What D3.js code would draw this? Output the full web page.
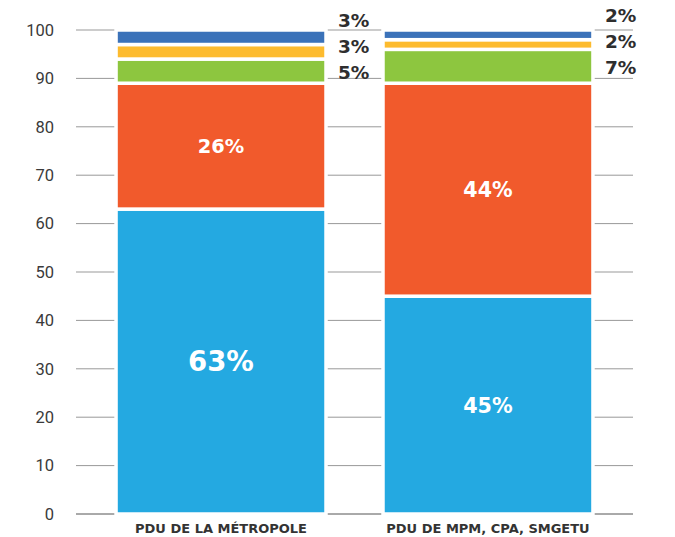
<!DOCTYPE html>
<html>
<head>
<meta charset="utf-8">
<script src="https://cdn.jsdelivr.net/npm/d3@7"></script>
<style>
  html, body { margin: 0; padding: 0; background: #fff; }
  svg { display: block; }
</style>
</head>
<body>
<svg id="chart" width="675" height="537"></svg>
<script>
// Modal split of the two mobility plans (shares in %, bottom to top)
const categories = ["PDU DE LA MÉTROPOLE", "PDU DE MPM, CPA, SMGETU"];
const shareBlue   = [63, 45];
const shareOrange = [26, 44];
const shareGreen  = [5, 7];
const shareYellow = [3, 2];
const shareNavy   = [3, 2];
const yTicks = [0, 10, 20, 30, 40, 50, 60, 70, 80, 90, 100];

const keys = ["blue", "orange", "green", "yellow", "navy"];
const colors = {
  blue: "#24a9e1",
  orange: "#f15a2c",
  green: "#8dc63f",
  yellow: "#fdbb2e",
  navy: "#3b72b9"
};

const rows = categories.map((c, i) => ({
  category: c,
  blue: shareBlue[i],
  orange: shareOrange[i],
  green: shareGreen[i],
  yellow: shareYellow[i],
  navy: shareNavy[i]
}));

const svg = d3.select("#chart");
const plotLeft = 76, plotRight = 633, plotTop = 30, plotBottom = 514;

const x = d3.scaleBand()
  .domain(categories)
  .range([plotLeft, plotRight])
  .paddingInner(0.2135)
  .paddingOuter(0.15);

const y = d3.scaleLinear().domain([0, 100]).range([plotBottom, plotTop]);

// gridlines (bars are drawn over them with a white outline)
const grid = svg.append("g");
grid.selectAll("line")
  .data(yTicks)
  .join("line")
  .attr("x1", plotLeft).attr("x2", plotRight)
  .attr("y1", d => y(d)).attr("y2", d => y(d))
  .attr("stroke", d => d === 0 ? "#555" : "#999")
  .attr("stroke-width", 1);

// y axis labels
const yAxis = d3.axisLeft(y).tickValues(yTicks).tickSize(0).tickPadding(0);
const ya = svg.append("g").attr("transform", `translate(${54},0)`).call(yAxis);
ya.select(".domain").remove();
ya.selectAll("text")
  .attr("font-family", "Roboto, sans-serif")
  .attr("font-weight", 400)
  .attr("font-size", 16.5)
  .attr("fill", "#3a3a3a");

// stacked bars
const stacked = d3.stack().keys(keys)(rows);

const layers = svg.append("g").selectAll("g")
  .data(stacked)
  .join("g")
  .attr("fill", d => colors[d.key]);

layers.selectAll("rect")
  .data(d => d)
  .join("rect")
  .attr("x", d => x(d.data.category))
  .attr("width", x.bandwidth())
  .attr("y", d => y(d[1]))
  .attr("height", d => y(d[0]) - y(d[1]))
  .attr("stroke", "#fff")
  .attr("stroke-width", 3.5);

// labels inside the large segments
const insideSize = d3.scaleLinear().domain([20, 50, 63]).range([19, 21, 27.5]);
const labelFont = "'DejaVu Sans', sans-serif";

const inside = [];
const outside = [];
stacked.forEach(layer => {
  layer.forEach(seg => {
    const v = seg[1] - seg[0];
    const item = { key: layer.key, category: seg.data.category, v, y0: seg[0], y1: seg[1] };
    if (v >= 20) inside.push(item); else outside.push(item);
  });
});

svg.append("g").selectAll("text")
  .data(inside)
  .join("text")
  .attr("x", d => x(d.category) + x.bandwidth() / 2)
  .attr("y", d => y((d.y0 + d.y1) / 2))
  .attr("dy", "0.36em")
  .attr("text-anchor", "middle")
  .attr("font-family", labelFont)
  .attr("font-weight", "bold")
  .attr("font-size", d => insideSize(d.v))
  .attr("fill", "#fff")
  .text(d => d.v + "%");

// labels for the thin segments, placed beside each bar and pushed apart
const gapPx = 26;
categories.forEach(cat => {
  const items = outside.filter(d => d.category === cat).sort((a, b) => a.y0 - b.y0);
  let prev = Infinity;
  items.forEach(d => {
    const c = y((d.y0 + d.y1) / 2) + 1.5;
    d.ly = Math.min(c, prev - gapPx);
    prev = d.ly;
  });
});

svg.append("g").selectAll("text")
  .data(outside)
  .join("text")
  .attr("x", d => x(d.category) + x.bandwidth() + 12)
  .attr("y", d => d.ly)
  .attr("dy", "0.36em")
  .attr("font-family", labelFont)
  .attr("font-weight", "bold")
  .attr("font-size", 18.5)
  .attr("fill", "#2e2e2e")
  .text(d => d.v + "%");

// category labels
const xAxis = d3.axisBottom(x).tickSize(0).tickPadding(0);
const xa = svg.append("g").attr("transform", `translate(0,${524})`).call(xAxis);
xa.select(".domain").remove();
xa.selectAll("text")
  .attr("dy", "0.71em")
  .attr("y", 0)
  .attr("font-family", labelFont)
  .attr("font-weight", "bold")
  .attr("font-size", 13)
  .attr("fill", "#333");
</script>
</body>
</html>
